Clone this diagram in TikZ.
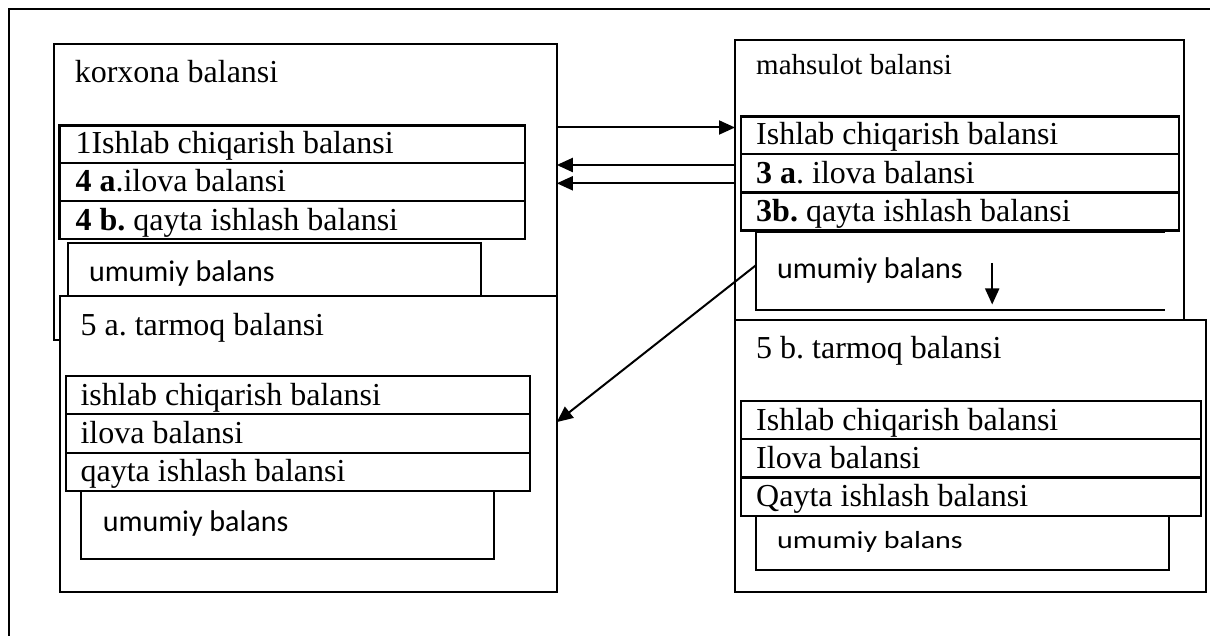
\documentclass[tikz,border=0pt]{standalone}
\usepackage{fontspec}
\setmainfont{Liberation Serif}
\newfontfamily\umfont{Carlito}
\usetikzlibrary{arrows.meta,calc}
\frenchspacing
\tikzset{
  box/.style={draw, line width=2pt, fill=white, anchor=north west,
    inner sep=0pt, outer sep=0pt},
  rowbox/.style={draw, line width=2.4pt, fill=white, anchor=north west,
    inner sep=0pt, outer sep=0pt},
  hidden/.style={anchor=north west, inner sep=0pt, outer sep=0pt},
  lbl/.style={anchor=base west, inner sep=0pt,
    font=\fontsize{32}{36}\selectfont},
  umlbl/.style={anchor=base west, inner sep=0pt,
    font=\umfont\fontsize{30}{34}\selectfont},
  frame/.style={line width=2.7pt},
  link/.style={line width=2pt, -{Triangle[length=16pt,width=14pt]}},
}
\begin{document}
\begin{tikzpicture}[x=1pt,y=-1pt]
\useasboundingbox (0,0) rectangle (1210,636);

% outer frame (only top and left edges fall on the page)
\draw[frame] (9,636) -- (9,9) -- (1210,9);

% ---------- korxona balansi ----------
\node[box, minimum width=502.5pt, minimum height=295.7pt] (korxona) at (54.3,44.3) {};
\node[lbl] (ktitle) at (74.6,83) {korxona balansi};
\node[box, minimum width=412.7pt, minimum height=57pt] (kumum) at (68,243) {};
\node[umlbl] (kumumtext) at (88.8,281.7) {umumiy balans};
\node[rowbox, minimum width=465.7pt, minimum height=37.5pt] (krow1) at (59.3,125.5) {};
\node[rowbox, minimum width=465.7pt, minimum height=38pt] (krow2) at (59.3,163) {};
\node[rowbox, minimum width=465.7pt, minimum height=38.3pt] (krow3) at (59.3,201) {};
\node[lbl] (ktext1) at ($(krow1.south west)+(16,-9)$) {1Ishlab chiqarish balansi};
\node[lbl] (ktext2) at ($(krow2.south west)+(16,-9)$) {\textbf{4 a}.ilova balansi};
\node[lbl] (ktext3) at ($(krow3.south west)+(16,-9)$) {\textbf{4 b.} qayta ishlash balansi};

% ---------- 5 a. tarmoq balansi ----------
\node[box, minimum width=496.8pt, minimum height=296pt] (asec) at (60,295.7) {};
\node[lbl] (atitle) at (80.4,335) {5 a. tarmoq balansi};
\node[box, minimum width=412.7pt, minimum height=68.6pt] (aumum) at (81,490.7) {};
\node[umlbl] (aumumtext) at (102.6,531.7) {umumiy balans};
\node[rowbox, minimum width=464.2pt, minimum height=38pt] (arow1) at (65.8,376) {};
\node[rowbox, minimum width=464.2pt, minimum height=38.7pt] (arow2) at (65.8,414) {};
\node[rowbox, minimum width=464.2pt, minimum height=38pt] (arow3) at (65.8,452.7) {};
\node[lbl] (atext1) at ($(arow1.south west)+(14.6,-9)$) {ishlab chiqarish balansi};
\node[lbl] (atext2) at ($(arow2.south west)+(14.6,-9)$) {ilova balansi};
\node[lbl] (atext3) at ($(arow3.south west)+(14.6,-9)$) {qayta ishlash balansi};

% ---------- mahsulot balansi ----------
\node[box, minimum width=449.3pt, minimum height=290pt] (mahs) at (735,40) {};
\node[lbl, font=\fontsize{29}{34}\selectfont] (mtitle) at (756,75) {mahsulot balansi};
\node[hidden, minimum width=408.3pt, minimum height=77.5pt] (mumum) at (756.2,232.5) {};
\draw[line width=2pt] (mumum.north east) -- (mumum.north west)
  -- (mumum.south west) -- (mumum.south east);
\node[umlbl] (mumumtext) at (777,278.3) {umumiy balans};
\node[rowbox, minimum width=438.5pt, minimum height=37.3pt] (mrow1) at (740.7,116.7) {};
\node[rowbox, minimum width=438.5pt, minimum height=38.7pt] (mrow2) at (740.7,154) {};
\node[rowbox, minimum width=438.5pt, minimum height=38pt] (mrow3) at (740.7,192.7) {};
\node[lbl] (mtext1) at ($(mrow1.south west)+(15.3,-9)$) {Ishlab chiqarish balansi};
\node[lbl] (mtext2) at ($(mrow2.south west)+(15.3,-9)$) {\textbf{3 a}. ilova balansi};
\node[lbl] (mtext3) at ($(mrow3.south west)+(15.3,-9)$) {\textbf{3b.} qayta ishlash balansi};

% ---------- 5 b. tarmoq balansi ----------
\node[box, minimum width=470.5pt, minimum height=271.7pt] (bsec) at (735.2,320) {};
\node[lbl] (btitle) at (756,358) {5 b. tarmoq balansi};
\node[box, minimum width=412.5pt, minimum height=54.3pt] (bumum) at (756.2,515.7) {};
\node[umlbl] (bumumtext) at (777,548) {\scalebox{1}[0.82]{umumiy balans}};
\node[rowbox, minimum width=460.3pt, minimum height=38pt] (brow1) at (740.7,401) {};
\node[rowbox, minimum width=460.3pt, minimum height=38.3pt] (brow2) at (740.7,439) {};
\node[rowbox, minimum width=460.3pt, minimum height=38.4pt] (brow3) at (740.7,477.3) {};
\node[lbl] (btext1) at ($(brow1.south west)+(15.3,-9)$) {Ishlab chiqarish balansi};
\node[lbl] (btext2) at ($(brow2.south west)+(15.3,-9)$) {Ilova balansi};
\node[lbl] (btext3) at ($(brow3.south west)+(15.3,-9)$) {Qayta ishlash balansi};

% ---------- connectors ----------
\coordinate (kout) at ($(korxona.north east)+(0,83.2)$);
\draw[link] (kout) -- (kout -| mahs.west);
\coordinate (min1) at ($(mahs.north west)+(0,125)$);
\coordinate (min2) at ($(mahs.north west)+(0,143.3)$);
\draw[link] (min1) -- (min1 -| korxona.east);
\draw[link] (min2) -- (min2 -| korxona.east);
\draw[link] ($(mumum.north west)!0.42!(mumum.south west)$)
  -- ($(asec.north east)!0.427!(asec.south east)$);
\coordinate (mdown) at ($(mumum.north west)+(236,30.5)$);
\draw[link] (mdown) -- ++(0,41.5);
\end{tikzpicture}
\end{document}
